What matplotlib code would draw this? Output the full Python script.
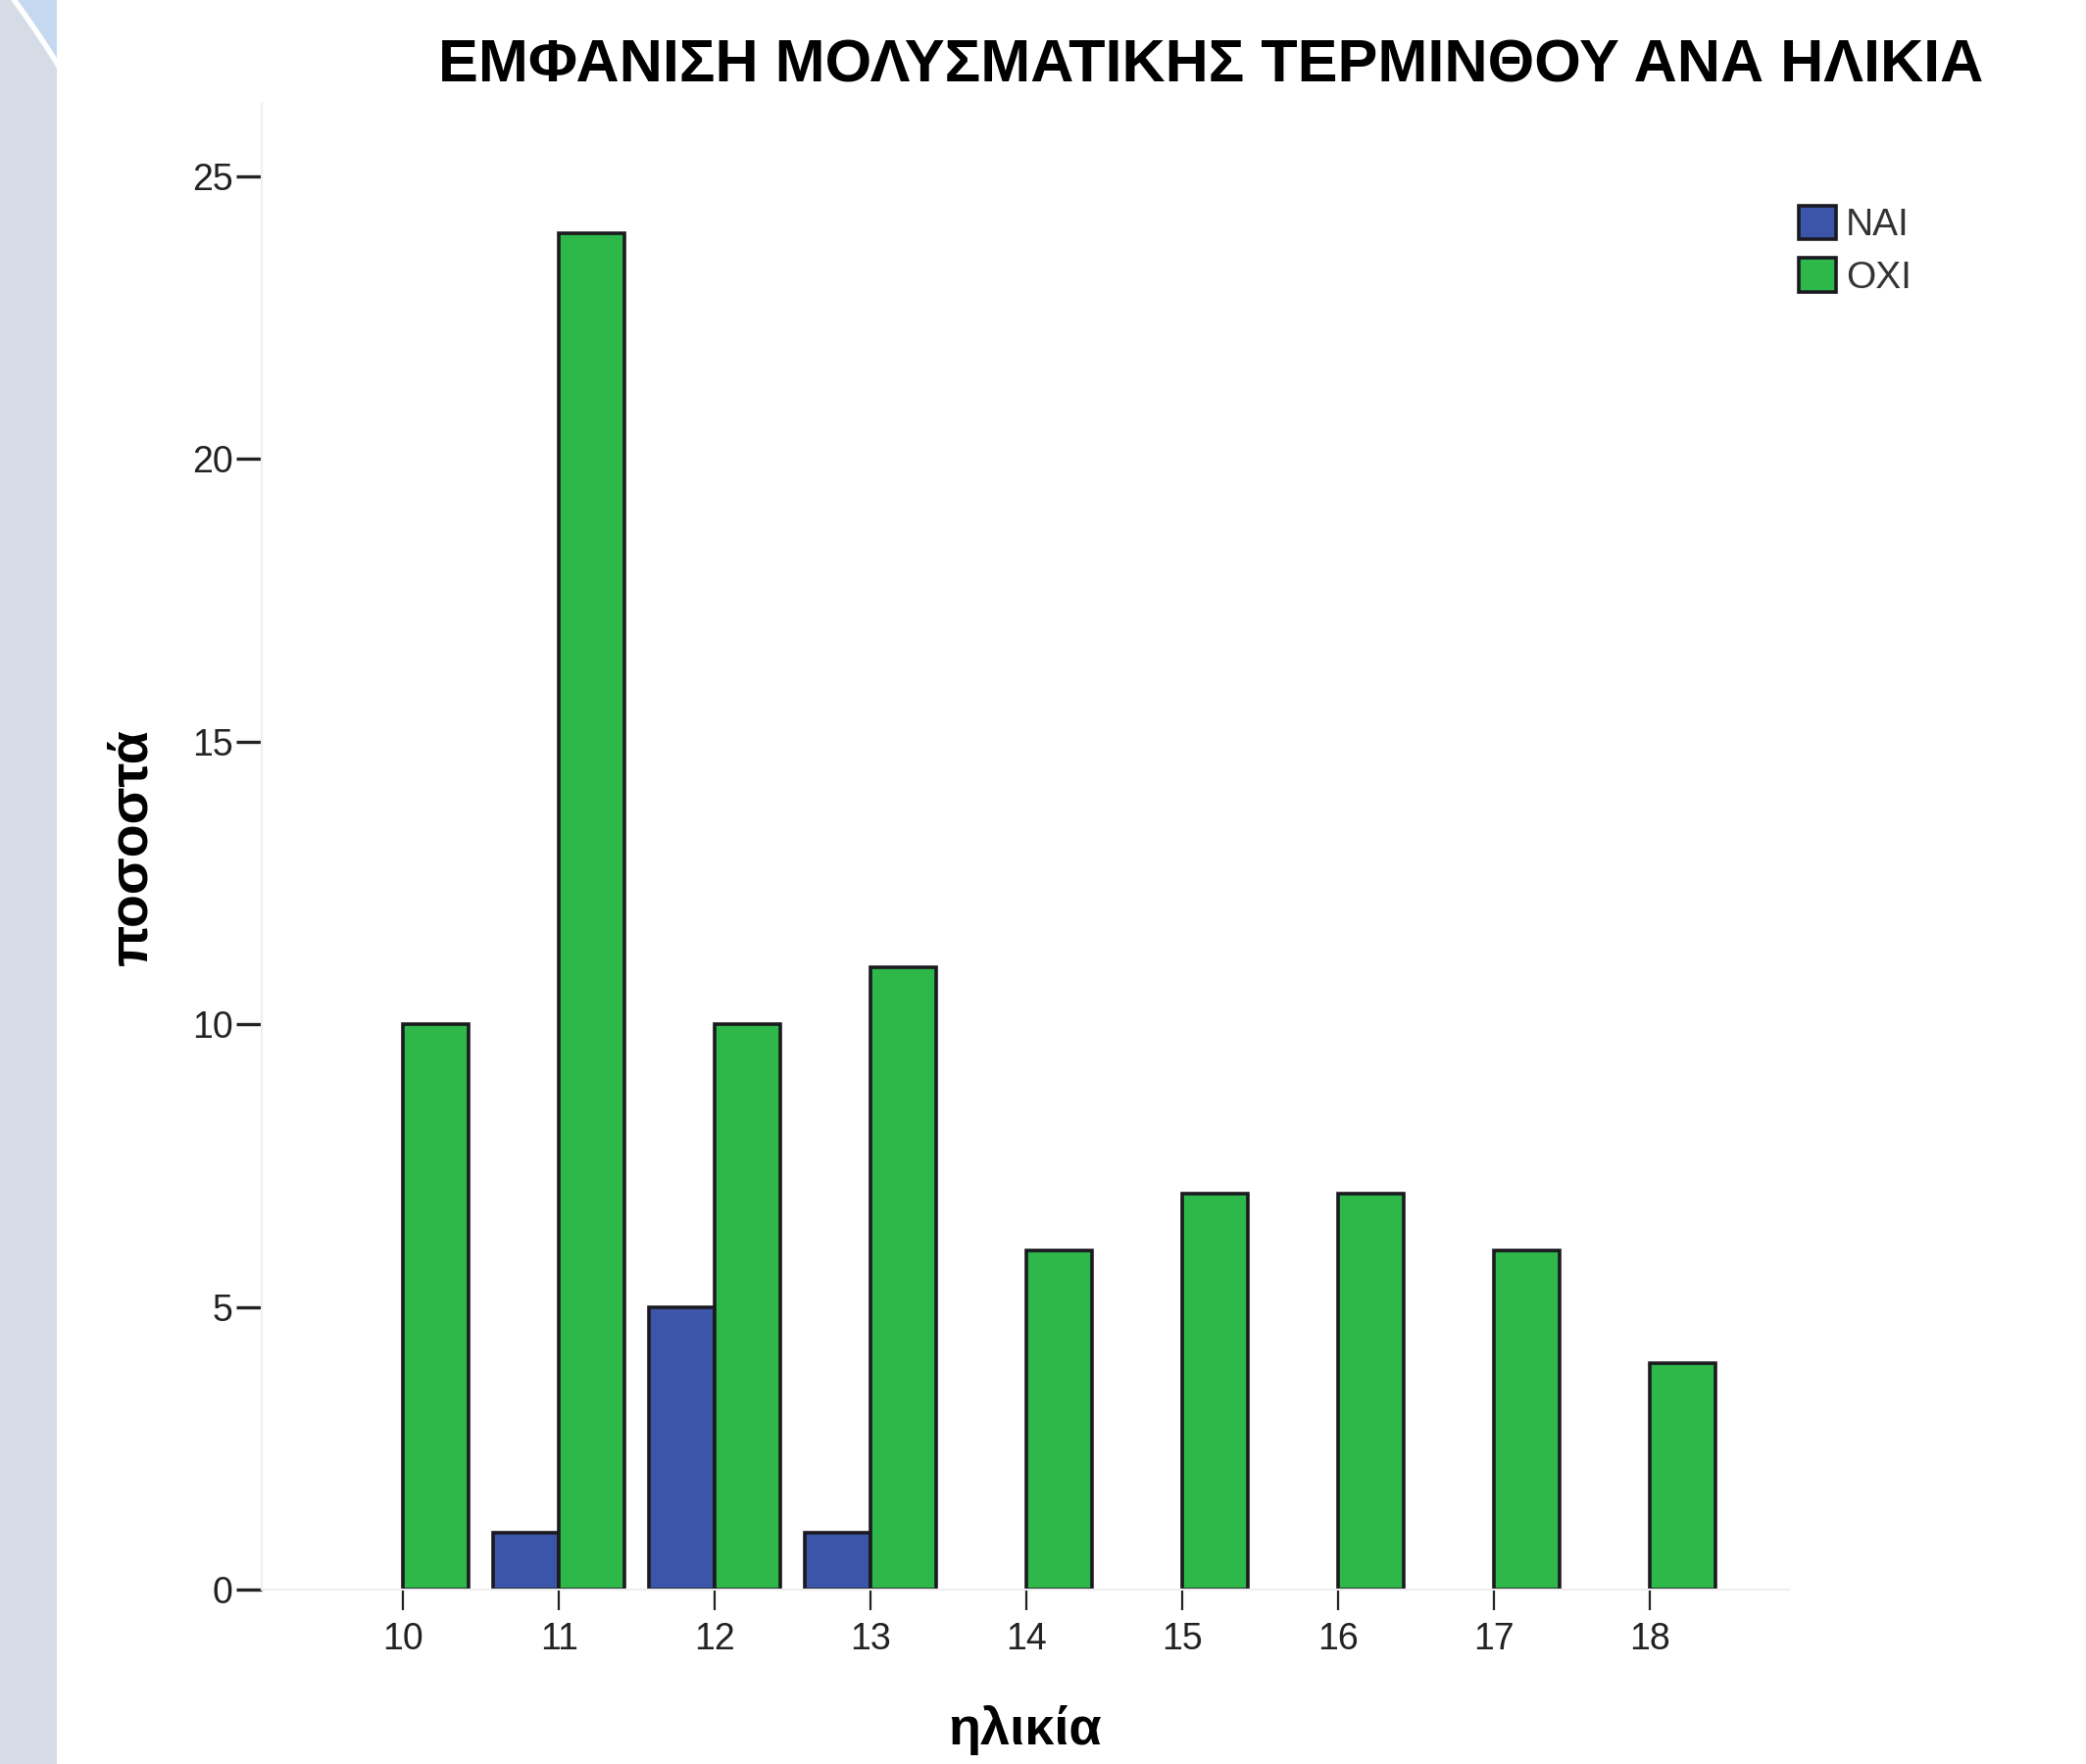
import numpy as np
import matplotlib
matplotlib.use('Agg')
import matplotlib.pyplot as plt
from matplotlib import font_manager
from matplotlib.patches import Rectangle, Circle

# data
ages = [10, 11, 12, 13, 14, 15, 16, 17, 18]
nai = [0, 1, 5, 1, 0, 0, 0, 0, 0]
oxi = [10, 24, 10, 11, 6, 7, 7, 6, 4]
yticks = [0, 5, 10, 15, 20, 25]
title = 'ΕΜΦΑΝΙΣΗ ΜΟΛΥΣΜΑΤΙΚΗΣ ΤΕΡΜΙΝΘΟΥ ΑΝΑ ΗΛΙΚΙΑ'

names = {f.name for f in font_manager.fontManager.ttflist}
base = 'Liberation Sans'
narrow = 'Liberation Sans Narrow' if 'Liberation Sans Narrow' in names else base
plt.rcParams['font.family'] = [base, 'DejaVu Sans']

W, H = 2128, 1800
fig = plt.figure(figsize=(W / 100, H / 100), dpi=100)
fig.patch.set_facecolor('white')

# slide decoration on the left edge
deco = fig.add_axes([0, 0, 58 / W, 1])
deco.set_xlim(0, 58)
deco.set_ylim(H, 0)
deco.axis('off')
deco.add_patch(Rectangle((0, 0), 58, H, facecolor='#c6d8ef', edgecolor='none'))
deco.add_patch(Circle((-792, 593), 1001, facecolor='#d5dce5', edgecolor='white', linewidth=4))
deco.add_patch(Rectangle((0, 590), 58, H, facecolor='#d5dce5', edgecolor='none'))

ax = fig.add_axes([267 / W, (H - 1622) / H, (1825 - 267) / W, (1622 - 106) / H])
ax.set_xlim(9.094, 18.89)
ax.set_ylim(0, 26.28)

w = 0.42
blue = '#3d55a9'
green = '#2eb84a'
x = np.array(ages)
nai_a = np.array(nai)
oxi_a = np.array(oxi)
m = nai_a > 0
ax.bar(x[m] - w / 2, nai_a[m], w, color=blue, edgecolor='#1a1a20', linewidth=2.6, label='NAI')
ax.bar(x + w / 2, oxi_a, w, color=green, edgecolor='#1a1a20', linewidth=2.6, label='OXI')

for s in ['top', 'right']:
    ax.spines[s].set_visible(False)
for s in ['left', 'bottom']:
    ax.spines[s].set_color('#eeeeee')
    ax.spines[s].set_linewidth(1.5)

ax.set_yticks(yticks)
ax.set_xticks(ages)
ax.tick_params(axis='y', length=19, width=2.4, color='#222222', pad=2, labelsize=27, labelcolor='#222222')
ax.tick_params(axis='x', length=15, width=1.6, color='#222222', pad=9, labelsize=27, labelcolor='#222222')

ax.set_ylabel('ποσοστά', fontsize=40, fontweight='bold', labelpad=25)
ax.set_xlabel('ηλικία', fontsize=39, fontweight='bold', labelpad=35)

fig.text(1235 / W, 1 - 68 / H, title, ha='center', va='center', fontsize=44,
         fontweight='bold', family=[narrow, 'DejaVu Sans'])

fig.legend(loc='upper left', bbox_to_anchor=(1819 / W, 1 - 194 / H), frameon=False,
           fontsize=28, handlelength=1.0, handleheight=1.0, labelspacing=0.38,
           handletextpad=0.25, borderaxespad=0, labelcolor='#333333')

fig.savefig('out.png', dpi=100)
